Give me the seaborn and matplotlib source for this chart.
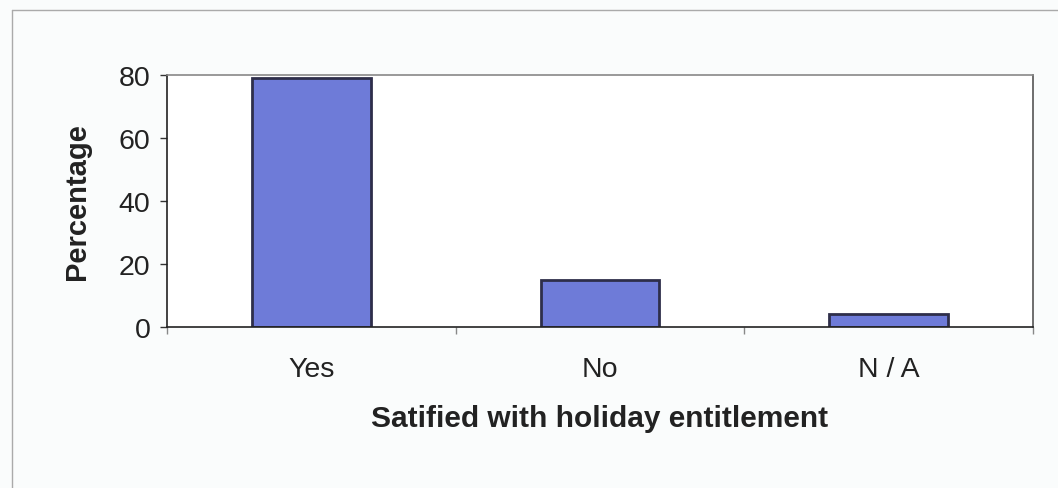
import matplotlib
matplotlib.use("Agg")
import matplotlib.pyplot as plt
import seaborn as sns
import pandas as pd
from matplotlib.lines import Line2D

categories = ["Yes", "No", "N / A"]
values = [79, 15, 4]
y_ticks = [0, 20, 40, 60, 80]

sns.set_theme(style="white")
plt.rcParams['font.family'] = ['Liberation Sans', 'DejaVu Sans']

df = pd.DataFrame({"cat": categories, "val": values})

fig = plt.figure(figsize=(10.58, 4.89), dpi=100, facecolor="#fafcfc")
ax = fig.add_axes([167/1058, 1 - 328/489, (1033 - 167)/1058, (328 - 76)/489])
ax.set_facecolor("white")

sns.barplot(data=df, x="cat", y="val", ax=ax, color="#6E7BD8", width=0.41,
            edgecolor="#2e2e4a", linewidth=2, saturation=1)

ax.set_xlim(-0.5, 2.5)
ax.set_ylim(0, 80)
ax.set_yticks(y_ticks)
ax.set_yticklabels([str(v) for v in y_ticks], fontsize=20.5, color="#222222")
ax.tick_params(axis="y", length=5, width=1, color="#333333", direction="out", pad=7, left=True)
ax.set_xticks(range(len(categories)))
ax.set_xticklabels(categories, fontsize=20.5, color="#222222")
ax.tick_params(axis="x", which="major", length=0, pad=21)
ax.set_xticks([-0.5, 0.5, 1.5, 2.5], minor=True)
ax.tick_params(axis="x", which="minor", length=5, width=1, color="#888888", direction="out", bottom=True)

ax.set_ylabel("Percentage", fontsize=21, fontweight="bold", color="#222222", labelpad=20)
ax.set_xlabel("Satified with holiday entitlement", fontsize=21.5, fontweight="bold",
              color="#222222", labelpad=16)

ax.spines["left"].set_color("#222222")
ax.spines["left"].set_linewidth(1.2)
ax.spines["bottom"].set_color("#222222")
ax.spines["bottom"].set_linewidth(1.2)
ax.spines["top"].set_color("#888888")
ax.spines["top"].set_linewidth(1.2)
ax.spines["right"].set_color("#555555")
ax.spines["right"].set_linewidth(1.2)
for s in ax.spines.values():
    s.set_visible(True)

# outer chart border (left and top edges)
fig.add_artist(Line2D([12/1058, 12/1058], [0, 1 - 11/489], transform=fig.transFigure,
                      color="#aaaaaa", linewidth=1))
fig.add_artist(Line2D([12/1058, 1], [1 - 11/489, 1 - 11/489], transform=fig.transFigure,
                      color="#aaaaaa", linewidth=1))

fig.savefig("out.png", dpi=100, facecolor=fig.get_facecolor())
